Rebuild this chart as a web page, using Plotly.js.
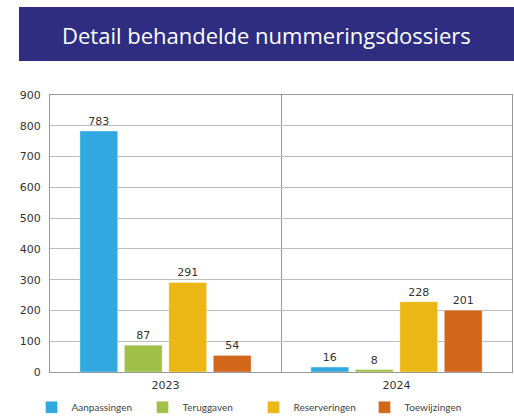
<!DOCTYPE html>
<html>
<head>
<meta charset="utf-8">
<script src="https://cdn.plot.ly/plotly-3.0.1.min.js"></script>
<style>html,body{margin:0;padding:0;background:#fff;}</style>
</head>
<body>
<div id="chart" style="width:514px;height:418px;"></div>
<script>
const years = ["2023", "2024"];
const seriesNames = ["Aanpassingen", "Teruggaven", "Reserveringen", "Toewijzingen"];
const aanpassingen = [783, 16];
const teruggaven = [87, 8];
const reserveringen = [291, 228];
const toewijzingen = [54, 201];
const colors = ["#31A8E0", "#A1C04A", "#EAB714", "#D26619"];
const titleText = "Detail behandelde nummeringsdossiers";

const values = [aanpassingen, teruggaven, reserveringen, toewijzingen];
const traces = seriesNames.map((name, i) => ({
  type: "bar",
  name: name,
  x: years,
  y: values[i],
  text: values[i].map(String),
  textposition: "outside",
  cliponaxis: false,
  textfont: {family: "DejaVu Sans", size: 11, color: "#333"},
  marker: {color: colors[i], line: {color: "rgba(255,255,255,0.35)", width: 1}},
  hoverinfo: "none"
}));

const layout = {
  width: 514, height: 418,
  margin: {l: 50, r: 2, t: 95, b: 46, autoexpand: false},
  paper_bgcolor: "#fff", plot_bgcolor: "#fff",
  barmode: "group",
  bargap: 0.23,
  bargroupgap: 0.15,
  showlegend: true,
  legend: {
    orientation: "h", x: -0.04, xanchor: "left", y: -0.075, yanchor: "top",
    font: {family: "Lato", size: 10, color: "#444"},
    itemwidth: 30, traceorder: "normal", entrywidth: 66
  },
  xaxis: {
    type: "category",
    tickson: "boundaries",
    showgrid: true, gridcolor: "#999", gridwidth: 1,
    showline: true, linecolor: "#999", linewidth: 1, mirror: true,
    ticks: "", ticklen: 0, ticklabelstandoff: 3,
    tickfont: {family: "DejaVu Sans", size: 11, color: "#333"}
  },
  yaxis: {
    range: [0, 900], dtick: 100, tick0: 0,
    showgrid: true, gridcolor: "#bdbdbd", gridwidth: 1,
    showline: true, linecolor: "#999", linewidth: 1, mirror: true,
    zeroline: false,
    ticks: "", ticklabelstandoff: 6,
    tickfont: {family: "DejaVu Sans", size: 11, color: "#333"}
  },
  shapes: [{
    type: "rect", xref: "paper", yref: "paper",
    x0: -0.0671, x1: 1.0043, y0: 1.1227, y1: 1.3177,
    fillcolor: "#2E2D82", line: {width: 0}, layer: "above"
  }],
  annotations: [{
    xref: "paper", yref: "paper", x: 0.4686, y: 1.217,
    xanchor: "center", yanchor: "middle", showarrow: false,
    text: titleText,
    font: {family: "Open Sans", size: 22, color: "#ffffff", weight: 400}
  }]
};

Plotly.newPlot("chart", traces, layout, {displayModeBar: false, staticPlot: true});
</script>
</body>
</html>
